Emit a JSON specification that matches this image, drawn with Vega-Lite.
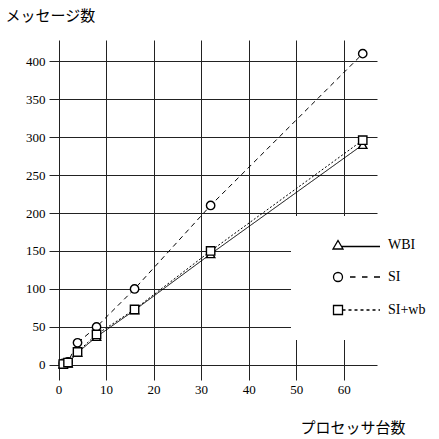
{
  "$schema": "https://vega.github.io/schema/vega-lite/v6.json",
  "width": 328,
  "height": 340,
  "autosize": "none",
  "padding": {"left": 49, "top": 40, "right": 62, "bottom": 59},
  "background": "white",
  "data": {"values": [
    {"series": "WBI", "x": 1, "y": 1},
    {"series": "WBI", "x": 2, "y": 2},
    {"series": "WBI", "x": 4, "y": 16},
    {"series": "WBI", "x": 8, "y": 37},
    {"series": "WBI", "x": 16, "y": 72},
    {"series": "WBI", "x": 32, "y": 146},
    {"series": "WBI", "x": 64, "y": 290},
    {"series": "SI", "x": 1, "y": 2},
    {"series": "SI", "x": 2, "y": 4},
    {"series": "SI", "x": 4, "y": 29},
    {"series": "SI", "x": 8, "y": 50},
    {"series": "SI", "x": 16, "y": 100},
    {"series": "SI", "x": 32, "y": 210},
    {"series": "SI", "x": 64, "y": 410},
    {"series": "SI+wb", "x": 1, "y": 1},
    {"series": "SI+wb", "x": 2, "y": 3},
    {"series": "SI+wb", "x": 4, "y": 17},
    {"series": "SI+wb", "x": 8, "y": 40},
    {"series": "SI+wb", "x": 16, "y": 73},
    {"series": "SI+wb", "x": 32, "y": 150},
    {"series": "SI+wb", "x": 64, "y": 296}
  ]},
  "config": {
    "view": {"stroke": null},
    "axis": {
      "labelFont": "Liberation Serif",
      "labelFontSize": 13,
      "labelColor": "black",
      "domain": false,
      "ticks": false,
      "grid": true,
      "gridColor": "#222",
      "gridOpacity": 1,
      "gridWidth": 1,
      "titleFont": "Noto Sans CJK JP",
      "titleFontSize": 15,
      "titleFontWeight": "normal",
      "titleColor": "black"
    },
    "legend": {
      "orient": "none",
      "legendX": 242,
      "legendY": 176,
      "padding": 22,
      "fillColor": "white",
      "symbolSize": 100,
      "symbolOffset": 18,
      "labelFont": "Liberation Serif",
      "labelFontSize": 14,
      "labelColor": "black",
      "labelOffset": 43,
      "rowPadding": 17,
      "symbolStrokeWidth": 1.3
    }
  },
  "resolve": {"scale": {"shape": "independent"}},
  "encoding": {
    "x": {
      "field": "x", "type": "quantitative",
      "scale": {"domain": [-2, 67], "nice": false, "zero": false},
      "axis": {
        "values": [0, 10, 20, 30, 40, 50, 60],
        "labelPadding": 3,
        "title": "プロセッサ台数",
        "titleAngle": 0,
        "titleX": 251,
        "titleY": 47,
        "titleAlign": "left",
        "titleBaseline": "middle"
      }
    },
    "y": {
      "field": "y", "type": "quantitative",
      "scale": {"domain": [-20, 428], "nice": false, "zero": false},
      "axis": {
        "values": [0, 50, 100, 150, 200, 250, 300, 350, 400],
        "labelPadding": 4,
        "title": "メッセージ数",
        "titleAngle": 0,
        "titleX": -44,
        "titleY": -25,
        "titleAlign": "left",
        "titleBaseline": "middle"
      }
    }
  },
  "layer": [
    {
      "mark": {"type": "line", "color": "black", "strokeWidth": 1},
      "encoding": {
        "strokeDash": {
          "field": "series", "type": "nominal",
          "scale": {"domain": ["SI", "WBI", "SI+wb"], "range": [[5, 4], [1, 0], [2, 2]]},
          "legend": null
        }
      }
    },
    {
      "mark": {"type": "point", "filled": true, "fill": "white", "stroke": "black", "strokeWidth": 1.4, "size": 70, "opacity": 1},
      "encoding": {
        "shape": {
          "field": "series", "type": "nominal",
          "scale": {"domain": ["SI", "WBI", "SI+wb"], "range": ["circle", "triangle-up", "square"]},
          "legend": null
        }
      }
    },
    {
      "transform": [{"filter": "false"}],
      "mark": {"type": "point", "filled": false, "color": "black", "fill": "white", "stroke": "black", "strokeWidth": 1.3, "size": 100, "opacity": 1},
      "encoding": {
        "shape": {
          "field": "series", "type": "nominal",
          "scale": {
            "domain": ["WBI", "SI", "SI+wb"],
            "range": [
              "M-1,0.8L1,0.8L0,-0.9ZM0.71,0.3L8.4,0.3",
              "M-0.9,0A0.9,0.9 0 1,1 0.9,0A0.9,0.9 0 1,1 -0.9,0ZM2.4,0H3.5M4.8,0H5.9M7.2,0H8.4",
              "M-0.9,-0.9H0.9V0.9H-0.9ZM0.9,0H1.5M2.1,0H2.7M3.3,0H3.9M4.5,0H5.1M5.7,0H6.3M6.9,0H7.5M8.1,0H8.4"
            ]
          },
          "legend": {"title": null}
        }
      }
    }
  ]
}
